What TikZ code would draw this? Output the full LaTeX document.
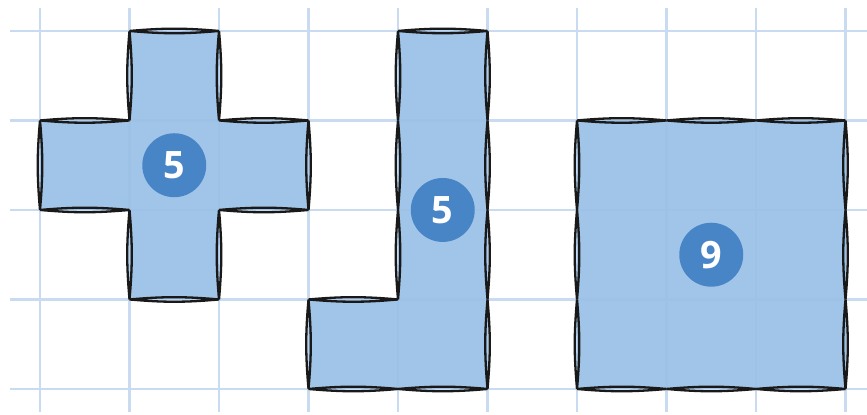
\documentclass[tikz,border=0pt]{standalone}
\usepackage{fontspec}
\setmainfont{Open Sans}
\definecolor{gridblue}{RGB}{200,219,241}
\definecolor{cellblue}{RGB}{154,193,230}
\definecolor{dotblue}{RGB}{72,133,199}
\tikzset{
  shapefill/.style={fill=cellblue, fill opacity=0.93},
  lens/.style={black!90, line width=1.1pt},
  count/.style={circle, fill=dotblue, text=white, minimum size=30.5pt, inner sep=0pt,
    font=\bfseries\fontsize{18}{18}\selectfont}
}
\begin{document}
\begin{tikzpicture}[x=1.5cm, y=1.5cm]
    \useasboundingbox (-0.447,-0.29) rectangle (9.24,4.346);
    % grid
    \foreach \x in {0,...,9} \draw[gridblue, line width=1pt] (\x,-0.26) -- (\x,4.26);
    \foreach \y in {0,...,4} \draw[gridblue, line width=1pt] (-0.33,\y) -- (9.24,\y);

    % the three figures
    \fill[shapefill] (1,1) -- (2,1) -- (2,2) -- (3,2) -- (3,3) -- (2,3) -- (2,4) -- (1,4) -- (1,3)
        -- (0,3) -- (0,2) -- (1,2) -- cycle;
    \fill[shapefill] (3,0) -- (5,0) -- (5,4) -- (4,4) -- (4,1) -- (3,1) -- cycle;
    \fill[shapefill] (6,0) rectangle (9,3);

    % outline, one lens per cell side
    \foreach \ax/\ay/\bx/\by in {1/4/2/4, 1/3/1/4, 2/3/2/4, 0/3/1/3, 0/2/0/3, 0/2/1/2, 2/3/3/3, 3/2/3/3,
        2/2/3/2, 1/1/1/2, 2/1/2/2, 1/1/2/1,
        4/4/5/4, 5/0/5/1, 5/1/5/2, 5/2/5/3, 5/3/5/4, 4/1/4/2, 4/2/4/3, 4/3/4/4,
        3/0/4/0, 4/0/5/0, 3/1/4/1, 3/0/3/1,
        6/0/7/0, 7/0/8/0, 8/0/9/0, 6/3/7/3, 7/3/8/3, 8/3/9/3,
        6/0/6/1, 6/1/6/2, 6/2/6/3, 9/0/9/1, 9/1/9/2, 9/2/9/3}
        \draw[lens] (\ax,\ay) to[bend left=5] (\bx,\by) to[bend left=5] (\ax,\ay);

    % counts
    \node[count] (cross) at (1.5,2.5) {5};
    \node[count] (ell) at (4.5,2) {5};
    \node[count] (square) at (7.5,1.5) {9};
\end{tikzpicture}
\end{document}
